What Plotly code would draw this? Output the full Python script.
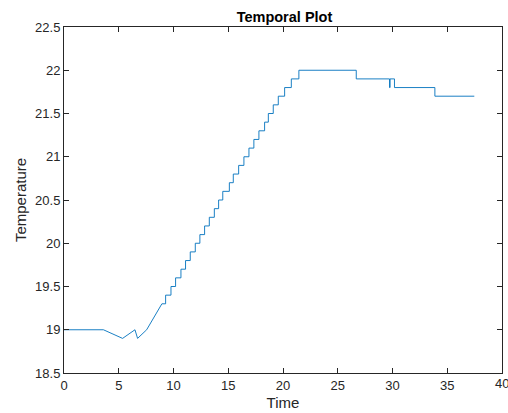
import plotly.graph_objects as go

# Time (x) and temperature (y) samples
time = [0, 3.6, 5.35, 6.48, 6.72, 7.55, 8.94,
        9.28, 9.28, 9.77, 9.77, 10.19, 10.19, 10.68, 10.68, 11.1, 11.1,
        11.53, 11.53, 11.99, 11.99, 12.41, 12.41, 12.84, 12.84, 13.27, 13.27,
        13.73, 13.73, 14.12, 14.12, 14.5, 14.5, 15.1, 15.1, 15.46, 15.46,
        15.95, 15.95, 16.43, 16.43, 16.89, 16.89, 17.34, 17.34, 17.8, 17.8,
        18.32, 18.32, 18.66, 18.66, 19.11, 19.11, 19.57, 19.57, 20.15, 20.15,
        20.76, 20.76, 21.45, 21.45,
        26.69, 26.69, 29.73, 29.73, 29.78, 29.78, 30.18, 30.18,
        33.87, 33.87, 37.47]
temp = [19.0, 19.0, 18.9, 19.0, 18.9, 19.0, 19.3,
        19.3, 19.4, 19.4, 19.5, 19.5, 19.6, 19.6, 19.7, 19.7, 19.8,
        19.8, 19.9, 19.9, 20.0, 20.0, 20.1, 20.1, 20.2, 20.2, 20.3,
        20.3, 20.4, 20.4, 20.5, 20.5, 20.6, 20.6, 20.7, 20.7, 20.8,
        20.8, 20.9, 20.9, 21.0, 21.0, 21.1, 21.1, 21.2, 21.2, 21.3,
        21.3, 21.4, 21.4, 21.5, 21.5, 21.6, 21.6, 21.7, 21.7, 21.8,
        21.8, 21.9, 21.9, 22.0,
        22.0, 21.9, 21.9, 21.8, 21.8, 21.9, 21.9, 21.8,
        21.8, 21.7, 21.7]

x_ticks = [0, 5, 10, 15, 20, 25, 30, 35, 40]
y_ticks = [18.5, 19, 19.5, 20, 20.5, 21, 21.5, 22, 22.5]
y_labels = ["18.5", "19", "19.5", "20", "20.5", "21", "21.5", "22", "22.5"]

FONT = "Liberation Sans, Arial"

fig = go.Figure(go.Scatter(x=time, y=temp, mode="lines",
                           line=dict(color="#0072BD", width=0.9)))

axis_common = dict(showgrid=False, zeroline=False, ticks="inside", ticklen=5,
                   tickcolor="#262626", showline=True, linecolor="#262626",
                   linewidth=1, mirror="ticks",
                   tickfont=dict(family=FONT, size=13, color="#262626"))

fig.update_layout(
    width=508, height=413,
    margin=dict(l=64, r=6, t=27, b=40),
    paper_bgcolor="white", plot_bgcolor="white",
    showlegend=False,
    title=dict(text="<b>Temporal Plot</b>", x=0.56, xanchor="center", y=0.958, yanchor="middle",
               font=dict(family=FONT, size=14.5, color="black")),
    xaxis=dict(range=[0, 40], tickvals=x_ticks, ticktext=[str(v) for v in x_ticks],
               title=dict(text="Time", standoff=5,
                          font=dict(family=FONT, size=15, color="#262626")),
               **axis_common),
    yaxis=dict(range=[18.5, 22.5], tickvals=y_ticks, ticktext=y_labels,
               title=dict(text="Temperature", standoff=4,
                          font=dict(family=FONT, size=15, color="#262626")),
               **axis_common),
)

# The last x tick label, which runs off the right edge in the reference
fig.add_annotation(x=x_ticks[-1], y=0, xref="x", yref="paper", yanchor="top",
                   yshift=-1, text=str(x_ticks[-1]), showarrow=False,
                   font=dict(family=FONT, size=13, color="#262626"))

fig.write_html("out.html")
